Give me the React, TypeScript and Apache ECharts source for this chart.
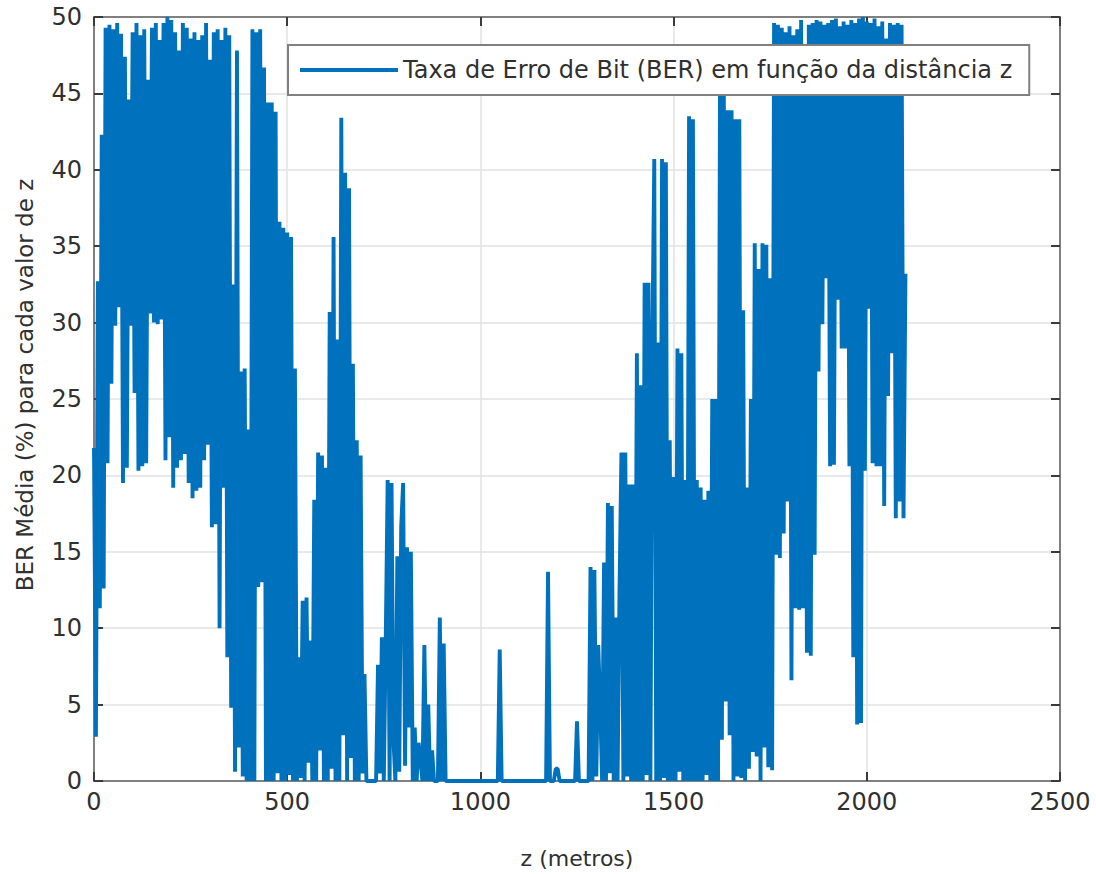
import React, { useEffect, useRef } from "react";
import * as echarts from "echarts";

// BER (%) sampled every Z_STEP metres, starting at z = 0
const Z_STEP = 5;
const BER_VALUES = [
  21.8, 2.9, 32.7, 11.3, 42.3, 12.6, 49.3, 20.8, 49.5, 26,
  49.2, 29.8, 49.6, 31, 48.9, 19.5, 47.4, 20.5, 44.6, 29.8,
  49, 25.4, 49.6, 20.3, 48.8, 20.6, 49.2, 20.8, 45.9, 30.6,
  49.3, 30, 49.6, 29.9, 48.5, 30.2, 49.6, 21, 50, 22.5,
  49.8, 19.2, 49, 20.5, 47.8, 21, 49.6, 21.4, 49.3, 19.5,
  48.6, 18.5, 49, 19, 48.5, 19.2, 48.8, 21, 49.6, 22,
  47.2, 16.6, 49, 16.8, 49.2, 10, 48.5, 19.2, 49.3, 8.1,
  48.8, 4.8, 32.5, 0.6, 47.8, 2.2, 26.8, 0.3, 27, 0,
  23, 0, 49.2, 0, 49, 12.7, 49.2, 13, 46.7, 0,
  44.4, 0, 44.4, 0, 43.8, 0.5, 36.6, 0, 36.2, 0,
  35.9, 0.4, 35.6, 0, 27, 0, 8.1, 0.2, 11.8, 0,
  12, 1.2, 9.2, 0, 18.4, 0, 21.5, 2, 21.3, 0,
  20.5, 0, 30.7, 0.8, 35.6, 0, 28.9, 0, 43.4, 3,
  39.8, 0, 38.8, 1.5, 27.3, 0, 22.3, 0, 21.3, 0.5,
  7, 0, 0, 0, 0, 0, 0, 7.6, 0.5, 9.4,
  0, 9.2, 19.7, 0, 19.5, 2.7, 0, 14.7, 0.6, 16.6,
  19.5, 1, 15.3, 3.5, 15, 0, 3.5, 0, 2.5, 1.4,
  0, 8.9, 0, 5, 0, 2, 0, 0, 0, 10.7,
  0, 9, 0, 0, 0, 0, 0, 0, 0, 0,
  0, 0, 0, 0, 0, 0, 0, 0, 0, 0,
  0, 0, 0, 0, 0, 0, 0, 0, 0, 0,
  8.6, 0, 0, 0, 0, 0, 0, 0, 0, 0,
  0, 0, 0, 0, 0, 0, 0, 0, 0, 0,
  0, 0, 0, 0, 0, 13.7, 0, 0, 0, 0.8,
  0.8, 0, 0, 0, 0, 0, 0, 0, 0, 0,
  3.9, 0, 0, 0, 0, 0, 0, 14, 0, 13.8,
  0.3, 8.9, 5, 0, 14.3, 0, 18.2, 0.5, 18, 0,
  10.7, 0, 12.4, 21.5, 0, 21.5, 0.3, 19.4, 0, 19.4,
  0, 28, 0, 25.9, 0, 32.6, 0.4, 32.6, 0, 28.7,
  40.7, 0, 28.7, 0, 40.7, 0.2, 40.5, 0, 22.3, 0,
  19.9, 0, 28.3, 0.6, 28, 0, 19.7, 0, 43.5, 0,
  43.3, 0, 19.7, 0, 19.2, 0, 18.4, 0.4, 19, 0,
  25, 0, 25, 0, 44.9, 2.7, 44.9, 5.2, 43.9, 3,
  43.9, 0, 43.3, 0.3, 43.3, 0.2, 30.8, 0, 19.2, 0.8,
  25, 1.9, 35.2, 1.6, 33.5, 0, 35.2, 2.2, 35.1, 0.9,
  32.9, 0.7, 49.6, 14.8, 49.5, 14.6, 49.3, 16.2, 49, 18.3,
  49.4, 6.6, 48.8, 11.3, 49.2, 11.2, 49.8, 11.3, 44.9, 8.4,
  49.5, 8.2, 49.6, 14.8, 49.8, 26.8, 49.7, 29.9, 49.5, 32.9,
  49.6, 20.6, 49.8, 20.7, 49.9, 31.5, 49.4, 28.3, 49.7, 28.3,
  49.5, 20.6, 49.8, 8.1, 49.6, 3.7, 49.9, 3.8, 50, 20.3,
  49.7, 30.9, 49.6, 20.8, 49.9, 20.6, 49.4, 20.6, 49.7, 18,
  48.6, 25.2, 49.6, 28, 49.5, 17.2, 49.6, 18.3, 49.5, 17.2,
  33.2,
];

const X_MIN = 0;
const X_MAX = 2500;
const X_INTERVAL = 500;
const Y_MIN = 0;
const Y_MAX = 50;
const Y_INTERVAL = 5;

const SERIES_NAME = "Taxa de Erro de Bit (BER) em função da distância z";
const X_TITLE = "z (metros)";
const Y_TITLE = "BER Média (%) para cada valor de z";

const FONT = "DejaVu Sans";
const LINE_COLOR = "#0072BD";
const TEXT_COLOR = "#303030";
const BOX_COLOR = "#808080";
const TICK_COLOR = "#3a3a3a";
const GRID_COLOR = "#e2e2e2";

export default function App() {
  const ref = useRef<HTMLDivElement>(null);

  useEffect(() => {
    if (!ref.current) return;
    const chart = echarts.init(ref.current, undefined, { renderer: "svg" });
    const data = BER_VALUES.map((v, i) => [i * Z_STEP, v]);

    const baseX = {
      type: "value",
      min: X_MIN,
      max: X_MAX,
      interval: X_INTERVAL,
      axisLine: { show: true, onZero: false, lineStyle: { color: BOX_COLOR, width: 2 } },
      axisTick: { show: true, inside: true, length: 9, lineStyle: { color: TICK_COLOR, width: 2 } },
    };
    const baseY = {
      type: "value",
      min: Y_MIN,
      max: Y_MAX,
      interval: Y_INTERVAL,
      axisLine: { show: true, onZero: false, lineStyle: { color: BOX_COLOR, width: 2 } },
      axisTick: { show: true, inside: true, length: 9, lineStyle: { color: TICK_COLOR, width: 2 } },
    };

    chart.setOption({
      animation: false,
      backgroundColor: "#ffffff",
      grid: { left: 94, right: 36, top: 17, bottom: 93, containLabel: false },
      legend: {
        data: [{ name: SERIES_NAME, icon: "rect" }],
        left: 288,
        top: 45,
        itemWidth: 98,
        itemHeight: 4,
        padding: [11, 17, 11, 12],
        borderColor: BOX_COLOR,
        borderWidth: 2,
        backgroundColor: "#ffffff",
        selectedMode: false,
        textStyle: { fontFamily: FONT, fontSize: 24, color: TEXT_COLOR, lineHeight: 28 },
      },
      xAxis: [
        {
          ...baseX,
          position: "bottom",
          axisLabel: {
            show: true,
            fontFamily: FONT,
            fontSize: 24,
            color: TEXT_COLOR,
            margin: 9,
            formatter: (v: number) => String(v),
          },
          splitLine: { show: true, lineStyle: { color: GRID_COLOR, width: 1.5 } },
        },
        {
          ...baseX,
          position: "top",
          axisLabel: { show: false },
          splitLine: { show: false },
        },
      ],
      yAxis: [
        {
          ...baseY,
          position: "left",
          axisLabel: {
            show: true,
            fontFamily: FONT,
            fontSize: 24,
            color: TEXT_COLOR,
            margin: 12,
            formatter: (v: number) => String(v),
          },
          splitLine: { show: true, lineStyle: { color: GRID_COLOR, width: 1.5 } },
        },
        {
          ...baseY,
          position: "right",
          axisLabel: { show: false },
          splitLine: { show: false },
        },
      ],
      series: [
        {
          name: SERIES_NAME,
          type: "line",
          xAxisIndex: 0,
          yAxisIndex: 0,
          data,
          symbol: "none",
          showSymbol: false,
          clip: false,
          itemStyle: { color: LINE_COLOR },
          lineStyle: { color: LINE_COLOR, width: 3.9, join: "bevel", cap: "butt" },
        },
      ],
      graphic: [
        {
          type: "text",
          x: 577,
          y: 858,
          style: {
            text: X_TITLE,
            fontFamily: FONT,
            fontSize: 22,
            fill: TEXT_COLOR,
            align: "center",
            verticalAlign: "middle",
          },
        },
        {
          type: "text",
          x: 25,
          y: 385,
          rotation: Math.PI / 2,
          style: {
            text: Y_TITLE,
            fontFamily: FONT,
            fontSize: 23,
            fill: TEXT_COLOR,
            align: "center",
            verticalAlign: "middle",
          },
        },
      ],
    });

    return () => chart.dispose();
  }, []);

  return (
    <div
      ref={ref}
      style={{ position: "fixed", left: 0, top: 0, width: 1096, height: 874, background: "#fff" }}
    />
  );
}
